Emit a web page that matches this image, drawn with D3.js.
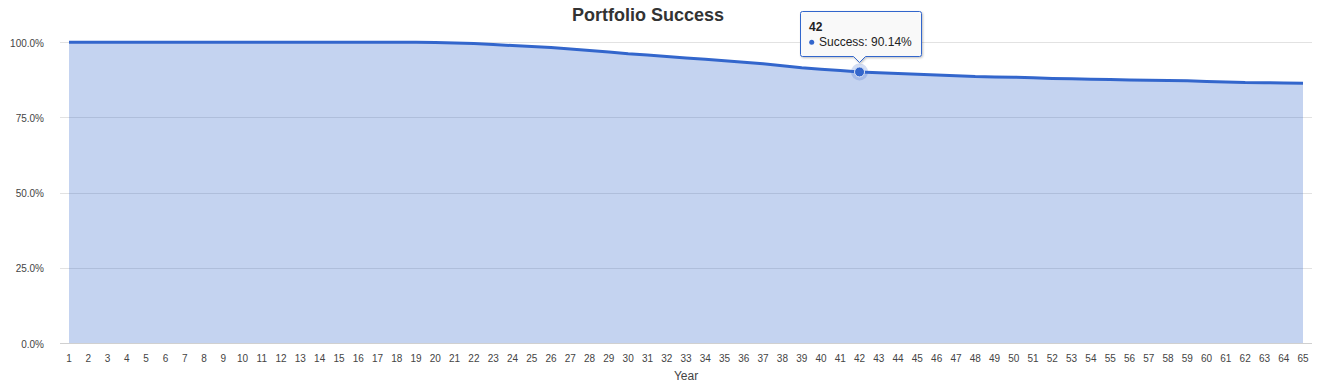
<!DOCTYPE html>
<html>
<head>
<meta charset="utf-8">
<script src="https://cdn.jsdelivr.net/npm/d3@7"></script>
<style>
  body { margin: 0; background: #fff; }
  text { font-family: "Liberation Sans", Arial, sans-serif; }
</style>
</head>
<body>
<script>
// chart data
var years = d3.range(1, 66);
var success = [100, 100, 100, 100, 100, 100, 100, 100, 100, 100,
  100, 100, 100, 100, 100, 100, 100, 100, 100, 99.9,
  99.8, 99.6, 99.3, 98.9, 98.6, 98.3, 97.8, 97.3, 96.8, 96.2,
  95.8, 95.3, 94.8, 94.4, 93.9, 93.4, 92.9, 92.2, 91.5, 91.0,
  90.6, 90.14, 89.9, 89.6, 89.4, 89.1, 88.9, 88.6, 88.5, 88.4,
  88.2, 88.0, 87.9, 87.7, 87.6, 87.5, 87.4, 87.3, 87.2, 87.0,
  86.8, 86.6, 86.55, 86.5, 86.4];
var yTicks = [0, 25, 50, 75, 100];
var title = "Portfolio Success";
var xTitle = "Year";
var seriesName = "Success";
var focusYear = 42;

var width = 1322, height = 388;
var blue = "#3366cc";

var svg = d3.select("body").append("svg")
  .attr("width", width)
  .attr("height", height);

var data = years.map(function (y, i) { return { year: y, value: success[i] }; });

// scales
var x = d3.scaleLinear().domain([1, 65]).range([69, 1303]);
var y = d3.scaleLinear().domain([0, 100]).range([343, 42.3]);

// gridlines
svg.append("g").selectAll("line")
  .data(yTicks)
  .join("line")
  .attr("x1", 60).attr("x2", 1312)
  .attr("y1", function (d) { return Math.round(y(d)) + 0.5; })
  .attr("y2", function (d) { return Math.round(y(d)) + 0.5; })
  .attr("stroke", function (d) { return d === 0 ? "#d0d0d0" : "#e2e2e2"; })
  .attr("stroke-width", 1);

// y axis labels
svg.append("g").selectAll("text")
  .data(yTicks)
  .join("text")
  .attr("x", 44)
  .attr("y", function (d) { return y(d) + 4.5; })
  .attr("text-anchor", "end")
  .attr("font-size", 10)
  .attr("fill", "#444")
  .text(function (d) { return d.toFixed(1) + "%"; });

// x axis labels
svg.append("g").selectAll("text")
  .data(years)
  .join("text")
  .attr("x", function (d) { return x(d); })
  .attr("y", 362)
  .attr("text-anchor", "middle")
  .attr("font-size", 10)
  .attr("fill", "#444")
  .text(function (d) { return d; });

svg.append("text")
  .attr("x", 686)
  .attr("y", 380)
  .attr("text-anchor", "middle")
  .attr("font-size", 12)
  .attr("fill", "#444")
  .text(xTitle);

// title
svg.append("text")
  .attr("x", 648)
  .attr("y", 21)
  .attr("text-anchor", "middle")
  .attr("font-size", 18)
  .attr("font-weight", "bold")
  .attr("fill", "#333")
  .text(title);

// area + line
var area = d3.area()
  .x(function (d) { return x(d.year); })
  .y0(y(0))
  .y1(function (d) { return y(d.value); });

var line = d3.line()
  .x(function (d) { return x(d.year); })
  .y(function (d) { return y(d.value); });

svg.append("path")
  .attr("d", area(data))
  .attr("fill", blue)
  .attr("fill-opacity", 0.29);

svg.append("path")
  .attr("d", line(data))
  .attr("fill", "none")
  .attr("stroke", blue)
  .attr("stroke-width", 3)
  .attr("stroke-linejoin", "round");

// focused point
var fp = data.filter(function (d) { return d.year === focusYear; })[0];
var px = x(fp.year), py = y(fp.value);

svg.append("circle")
  .attr("cx", px).attr("cy", py).attr("r", 8.5)
  .attr("fill", blue).attr("fill-opacity", 0.22);
svg.append("circle")
  .attr("cx", px).attr("cy", py).attr("r", 5)
  .attr("fill", blue)
  .attr("stroke", "#dfe6f5").attr("stroke-width", 1);

// tooltip
var defs = svg.append("defs");
var f = defs.append("filter").attr("id", "shadow")
  .attr("x", "-10%").attr("y", "-10%").attr("width", "130%").attr("height", "140%");
f.append("feDropShadow")
  .attr("dx", 1).attr("dy", 1).attr("stdDeviation", 1)
  .attr("flood-color", "#000").attr("flood-opacity", 0.25);

var bx = 800.5, by = 11.5, bw = 121, bh = 45, r = 2;
var tipPath = "M" + (bx + r) + "," + by +
  " H" + (bx + bw - r) + " Q" + (bx + bw) + "," + by + " " + (bx + bw) + "," + (by + r) +
  " V" + (by + bh - r) + " Q" + (bx + bw) + "," + (by + bh) + " " + (bx + bw - r) + "," + (by + bh) +
  " H" + (px + 6) + " L" + px + "," + (by + bh + 6) + " L" + (px - 6) + "," + (by + bh) +
  " H" + (bx + r) + " Q" + bx + "," + (by + bh) + " " + bx + "," + (by + bh - r) +
  " V" + (by + r) + " Q" + bx + "," + by + " " + (bx + r) + "," + by + " Z";

svg.append("path")
  .attr("d", tipPath)
  .attr("fill", "#f9f9f9")
  .attr("stroke", blue)
  .attr("stroke-width", 1)
  .attr("stroke-linejoin", "round")
  .attr("filter", "url(#shadow)");

svg.append("text")
  .attr("x", 809).attr("y", 31)
  .attr("font-size", 12)
  .attr("font-weight", "bold")
  .attr("fill", "#222")
  .text(fp.year);

svg.append("circle")
  .attr("cx", 811.7).attr("cy", 42.3).attr("r", 2.5)
  .attr("fill", blue);

svg.append("text")
  .attr("x", 819).attr("y", 46)
  .attr("font-size", 12)
  .attr("fill", "#222")
  .text(seriesName + ": " + fp.value.toFixed(2) + "%");
</script>
</body>
</html>
